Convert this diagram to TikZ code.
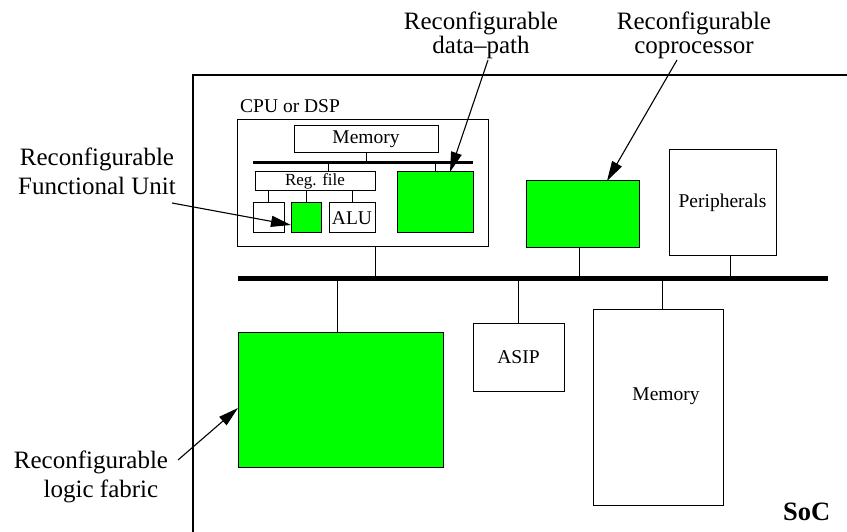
\documentclass[tikz,border=0pt]{standalone}
\usepackage{fontspec}
\setmainfont{Liberation Serif}
\usetikzlibrary{arrows.meta,calc}
\definecolor{cfggreen}{RGB}{0,255,0}
\begin{document}
\begin{tikzpicture}[x=1pt,y=-1pt,
  blk/.style 2 args={draw=black,line width=1pt,inner sep=0pt,outer sep=0pt,
    minimum width=#1,minimum height=#2,font=\fontsize{19.5}{22}\selectfont},
  rcfg/.style={fill=cfggreen},
  wire/.style={line width=1pt},
  bus/.style={line width=5pt},
  ibus/.style={line width=3pt},
  callout/.style={line width=1.1pt,-{Triangle[length=20pt,width=11pt]}},
  lbl/.style={align=center,inner sep=0pt,anchor=north,font=\fontsize{25}{29}\selectfont},
  toplbl/.style={lbl,font=\fontsize{25}{23.5}\selectfont},
  small/.style={inner sep=0pt,font=\fontsize{19.5}{22}\selectfont}]
\useasboundingbox (0,0) rectangle (847,532);

% SoC outline (open to the right and bottom)
\draw[line width=1.2pt] (193,532) -- (193,75) -- (847,75);
\node[anchor=base west,inner sep=0pt,font=\fontsize{26.5}{30}\selectfont\bfseries] (soc) at (783,520) {SoC};

% CPU / DSP block
\node[blk={251pt}{127pt}] (cpu) at (362.5,183.5) {};
\node[small,anchor=base west] (cpulbl) at (240,113) {CPU or DSP};
\node[blk={144pt}{27pt}] (imem) at (366,139.5) {Memory};
\coordinate (ibusW) at (253,163);
\coordinate (ibusE) at (473,163);
\draw[ibus] (ibusW) -- (ibusE);
\node[blk={120pt}{19pt},font=\fontsize{17}{20}\selectfont] (regf) at (315,181.5) {Reg. file};
\node[blk={76pt}{61pt},rcfg] (dpath) at (435,202.5) {};
\node[blk={31pt}{30pt}] (fu0) at (268.5,218) {};
\node[blk={30pt}{30pt},rcfg] (rfu) at (306,218) {};
\node[blk={46pt}{30pt}] (alu) at (352,218) {ALU};

\draw[wire] (imem.south) -- (imem.south |- ibusW);
\draw[wire] ([xshift=13pt]regf.north) -- ([xshift=13pt]regf.north |- ibusW);
\draw[wire] (dpath.north) -- (dpath.north |- ibusW);
\foreach \u in {fu0,rfu,alu}
  \draw[wire] (\u.north) -- (\u.north |- regf.south);

% System bus and attached blocks
\coordinate (busW) at (238,278);
\coordinate (busE) at (828,278);
\draw[bus] (busW) -- (busE);

\node[blk={113pt}{67pt},rcfg] (cop) at (582.5,214.5) {};
\node[blk={107pt}{106pt}] (periph) at (722.5,203) {Peripherals};
\node[blk={205pt}{135pt},rcfg] (fabric) at (340.5,399.5) {};
\node[blk={91pt}{68pt}] (asip) at (518.5,357.5) {ASIP};
\node[blk={130pt}{196pt}] (mem) at (658,407) {};
\node[small,anchor=base] (memlbl) at (666,400) {Memory};

\draw[wire] ([xshift=12.5pt]cpu.south) -- ([xshift=12.5pt]cpu.south |- busW);
\draw[wire] ([xshift=-3.5pt]cop.south) -- ([xshift=-3.5pt]cop.south |- busW);
\draw[wire] ([xshift=7.5pt]periph.south) -- ([xshift=7.5pt]periph.south |- busW);
\draw[wire] ([xshift=-3.5pt]fabric.north) -- ([xshift=-3.5pt]fabric.north |- busW);
\draw[wire] (asip.north) -- (asip.north |- busW);
\draw[wire] ([xshift=4pt]mem.north) -- ([xshift=4pt]mem.north |- busW);

% Callouts
\node[toplbl] (dplbl) at (481,12) {Reconfigurable\\data--path};
\node[toplbl] (coplbl) at (694,12) {Reconfigurable\\coprocessor};
\node[lbl] (fulbl) at (97,148) {Reconfigurable\\Functional Unit};
\node[lbl] (fablbl) at (91,451) {Reconfigurable\\\hspace*{20pt}logic fabric};

\coordinate (dpT) at (488,60);
\coordinate (copT) at (677,60);
\coordinate (fuT) at (172,203);
\coordinate (fabT) at (178,460);
\draw[callout] (dpT) -- ([xshift=15pt]dpath.north);
\draw[callout] (copT) -- ([xshift=24.5pt]cop.north);
\draw[callout] (fuT) -- ($(rfu.west)+(0,7)$);
\draw[callout] (fabT) -- ($(fabric.west)+(0,8.5)$);
\end{tikzpicture}
\end{document}
